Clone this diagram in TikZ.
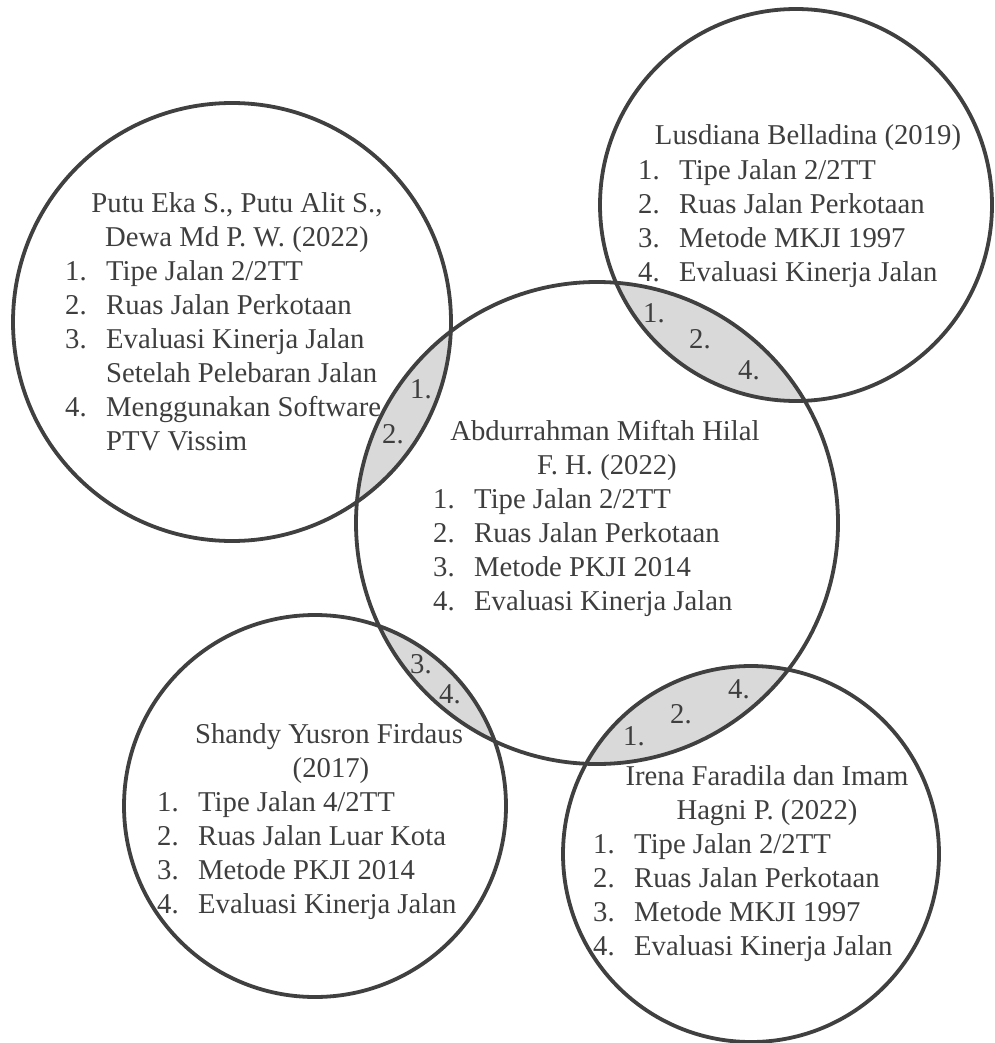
\documentclass[tikz,border=0pt]{standalone}
\usepackage{fontspec}
\setmainfont{Liberation Serif}
\definecolor{linegray}{RGB}{64,64,64}
\definecolor{textgray}{RGB}{62,62,62}
\definecolor{lensgray}{RGB}{217,217,217}
\newcommand\vtext{\fontsize{28.7}{34}\selectfont}
\newcommand\nm[1]{\makebox[41pt][l]{#1}}
\tikzset{
  ring/.style={draw=linegray, line width=3.8pt},
  ttl/.style={anchor=base, inner sep=0pt, text=textgray, font=\vtext},
  itm/.style={anchor=base west, inner sep=0pt, text=textgray, font=\vtext},
  lbl/.style={anchor=base west, inner sep=0pt, text=textgray, font=\vtext},
}
\begin{document}
\begin{tikzpicture}[x=1pt,y=-1pt]
\fill[white] (0,0) rectangle (994,1043);
\useasboundingbox (0,0) rectangle (994,1043);
% circle centres
\coordinate (cTL) at (232,322);
\coordinate (cTR) at (796,205);
\coordinate (cC)  at (597,523);
\coordinate (cBL) at (315,806);
\coordinate (cBR) at (751,854);
% lenses
\begin{scope}
  \clip (cC) circle[radius=241pt];
  \fill[lensgray] (cTL) circle[radius=219pt];
  \fill[lensgray] (cTR) circle[radius=196pt];
  \fill[lensgray] (cBL) circle[radius=191pt];
  \fill[lensgray] (cBR) circle[radius=188pt];
\end{scope}
% circles
\draw[ring] (cTL) circle[radius=219pt];
\draw[ring] (cTR) circle[radius=196pt];
\draw[ring] (cC)  circle[radius=241pt];
\draw[ring] (cBL) circle[radius=191pt];
\draw[ring] (cBR) circle[radius=188pt];
% top-left
\node[ttl] (tlt1) at (237,212) {Putu Eka S., Putu Alit S.,};
\node[ttl] (tlt2) at (237,246) {Dewa Md P. W. (2022)};
\node[itm] (tl1) at (65,280) {\nm{1.}Tipe Jalan 2/2TT};
\node[itm] (tl2) at (65,314) {\nm{2.}Ruas Jalan Perkotaan};
\node[itm] (tl3) at (65,348) {\nm{3.}Evaluasi Kinerja Jalan};
\node[itm] (tl3b) at (106,382) {Setelah Pelebaran Jalan};
\node[itm] (tl4) at (65,416) {\nm{4.}Menggunakan Software};
\node[itm] (tl4b) at (106,450) {PTV Vissim};
\node[lbl] (ltl1) at (410,398) {1.};
\node[lbl] (ltl2) at (382,443) {2.};
% top-right
\node[ttl] (trt) at (808,145) {Lusdiana Belladina (2019)};
\node[itm] (tr1) at (638,179) {\nm{1.}Tipe Jalan 2/2TT};
\node[itm] (tr2) at (638,213) {\nm{2.}Ruas Jalan Perkotaan};
\node[itm] (tr3) at (638,247) {\nm{3.}Metode MKJI 1997};
\node[itm] (tr4) at (638,281) {\nm{4.}Evaluasi Kinerja Jalan};
\node[lbl] (ltr1) at (643,322) {1.};
\node[lbl] (ltr2) at (689,348) {2.};
\node[lbl] (ltr4) at (738,379) {4.};
% centre
\node[ttl] (ct1) at (605,440) {Abdurrahman Miftah Hilal};
\node[ttl] (ct2) at (607,474) {F. H. (2022)};
\node[itm] (c1) at (433,508) {\nm{1.}Tipe Jalan 2/2TT};
\node[itm] (c2) at (433,542) {\nm{2.}Ruas Jalan Perkotaan};
\node[itm] (c3) at (433,576) {\nm{3.}Metode PKJI 2014};
\node[itm] (c4) at (433,610) {\nm{4.}Evaluasi Kinerja Jalan};
% bottom-left
\node[ttl] (blt1) at (329,743) {Shandy Yusron Firdaus};
\node[ttl] (blt2) at (331,777) {(2017)};
\node[itm] (bl1) at (157,811) {\nm{1.}Tipe Jalan 4/2TT};
\node[itm] (bl2) at (157,845) {\nm{2.}Ruas Jalan Luar Kota};
\node[itm] (bl3) at (157,879) {\nm{3.}Metode PKJI 2014};
\node[itm] (bl4) at (157,913) {\nm{4.}Evaluasi Kinerja Jalan};
\node[lbl] (lbl3) at (410,673) {3.};
\node[lbl] (lbl4) at (439,703) {4.};
% bottom-right
\node[ttl] (brt1) at (767,785) {Irena Faradila dan Imam};
\node[ttl] (brt2) at (767,819) {Hagni P. (2022)};
\node[itm] (br1) at (593,853) {\nm{1.}Tipe Jalan 2/2TT};
\node[itm] (br2) at (593,887) {\nm{2.}Ruas Jalan Perkotaan};
\node[itm] (br3) at (593,921) {\nm{3.}Metode MKJI 1997};
\node[itm] (br4) at (593,955) {\nm{4.}Evaluasi Kinerja Jalan};
\node[lbl] (lbr1) at (623,745) {1.};
\node[lbl] (lbr2) at (670,723) {2.};
\node[lbl] (lbr4) at (728,698) {4.};
\end{tikzpicture}
\end{document}
